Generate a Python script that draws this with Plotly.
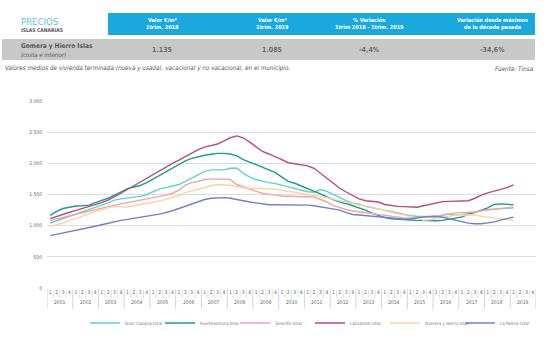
import plotly.graph_objects as go

# Quarterly average prices (EUR/m2), 2001 Q1 .. 2019 Q1
years = [str(y) for y in range(2001, 2020)]
quarters = ["1", "2", "3", "4"]

gran_canaria = [1043, 1080, 1120, 1150, 1190, 1225, 1260, 1295, 1330, 1365, 1410, 1430, 1445, 1455, 1470, 1500,
                1550, 1590, 1610, 1635, 1660, 1710, 1760, 1810, 1870, 1895, 1895, 1895, 1920, 1925, 1840, 1780,
                1740, 1710, 1690, 1675, 1650, 1620, 1600, 1575, 1545, 1535, 1580, 1550, 1500, 1440, 1400, 1360,
                1345, 1310, 1285, 1265, 1245, 1230, 1205, 1180, 1160, 1150, 1150, 1145, 1140, 1170, 1190, 1170,
                1180, 1190, 1210, 1240, 1260, 1265, 1270, 1275, 1285]
fuerteventura = [1165, 1230, 1275, 1300, 1315, 1320, 1330, 1370, 1405, 1440, 1490, 1545, 1595, 1620, 1645, 1690,
                 1750, 1810, 1870, 1920, 1980, 2040, 2080, 2110, 2130, 2145, 2160, 2160, 2150, 2120, 2060, 2020,
                 1975, 1940, 1895, 1850, 1780, 1710, 1680, 1640, 1600, 1555, 1510, 1460, 1415, 1380, 1355, 1320,
                 1290, 1250, 1200, 1160, 1130, 1110, 1100, 1095, 1090, 1085, 1080, 1078, 1080, 1085, 1100, 1120,
                 1140, 1180, 1210, 1250, 1285, 1340, 1350, 1345, 1335]
tenerife = [1085, 1110, 1138, 1160, 1185, 1213, 1240, 1265, 1290, 1310, 1330, 1350, 1370, 1390, 1405, 1420,
            1440, 1460, 1490, 1520, 1570, 1650, 1690, 1710, 1740, 1750, 1750, 1750, 1740, 1660, 1620, 1580,
            1550, 1520, 1500, 1490, 1475, 1468, 1468, 1465, 1468, 1460, 1420, 1380, 1320, 1285, 1260, 1235,
            1220, 1210, 1200, 1180, 1160, 1145, 1135, 1125, 1120, 1130, 1150, 1150, 1150, 1170, 1190, 1205,
            1210, 1212, 1220, 1240, 1255, 1265, 1280, 1290, 1298]
lanzarote = [1112, 1150, 1185, 1215, 1245, 1275, 1305, 1335, 1370, 1410, 1460, 1520, 1580, 1640, 1700, 1760,
             1830, 1890, 1950, 2000, 2050, 2110, 2170, 2220, 2260, 2290, 2310, 2360, 2410, 2440, 2410, 2340,
             2260, 2190, 2150, 2110, 2060, 2010, 1990, 1975, 1960, 1920, 1840, 1760, 1680, 1600, 1540, 1480,
             1430, 1400, 1390, 1380, 1340, 1320, 1310, 1305, 1300, 1295, 1320, 1345, 1370, 1385, 1390, 1390,
             1390, 1400, 1440, 1490, 1525, 1550, 1575, 1610, 1655]
gomera_hierro = [989, 1015, 1043, 1080, 1120, 1160, 1190, 1225, 1260, 1285, 1310, 1300, 1300, 1320, 1335, 1350,
                 1375, 1395, 1420, 1445, 1480, 1530, 1560, 1590, 1620, 1640, 1660, 1655, 1645, 1630, 1605, 1600,
                 1600, 1600, 1595, 1585, 1570, 1550, 1530, 1515, 1500, 1490, 1470, 1450, 1420, 1400, 1375, 1350,
                 1330, 1315, 1300, 1270, 1240, 1220, 1190, 1175, 1150, 1120, 1090, 1095, 1115, 1125, 1150, 1170,
                 1176, 1176, 1170, 1150, 1135, 1120, 1110, 1095, 1085]
la_palma = [840, 860, 880, 905, 925, 945, 965, 990, 1015, 1040, 1065, 1085, 1100, 1120, 1135, 1150,
            1170, 1185, 1210, 1240, 1275, 1310, 1350, 1385, 1420, 1440, 1450, 1450, 1440, 1425, 1400, 1380,
            1365, 1345, 1335, 1335, 1335, 1335, 1340, 1335, 1330, 1320, 1305, 1290, 1270, 1250, 1210, 1180,
            1170, 1160, 1155, 1140, 1125, 1115, 1110, 1105, 1110, 1130, 1140, 1145, 1150, 1135, 1110, 1090,
            1060, 1040, 1030, 1030, 1045, 1060, 1090, 1110, 1138]

series_names = ["Gran Canaria total", "Fuerteventura Islas", "Tenerife total",
                "Lanzarote total", "Gomera y Hierro Islas", "La Palma total"]
series_values = [gran_canaria, fuerteventura, tenerife, lanzarote, gomera_hierro, la_palma]
series_colors = ["#5fd3c9", "#1b9c8c", "#f5a3a3", "#b84a80", "#fbd3a6", "#6f80cc"]

y_ticks = [0, 500, 1000, 1500, 2000, 2500, 3000]
y_ticktext = ["0", "500", "1.000", "1.500", "2.000", "2.500", "3.000"]

header_cols = ["Valor €/m²<br>1trim. 2018", "Valor €/m²<br>1trim. 2019",
               "% Variación<br>1trim 2018 - 1trim. 2019", "Variación desde máximos<br>de la década pasada"]
row_values = ["1.135", "1.085", "-4,4%", "-34,6%"]

FONT = "DejaVu Sans Condensed, Liberation Sans Narrow, Arial Narrow, sans-serif"

W, H = 559, 338
L, R, T, B = 47, 536, 101, 288


def px(x):
    return (x - L) / (R - L)


def py(y):
    return (B - y) / (B - T)


n_slots = len(years) * len(quarters)
slot_x = list(range(n_slots))

fig = go.Figure()
for name, vals, col in zip(series_names, series_values, series_colors):
    fig.add_trace(go.Scatter(x=slot_x[:len(vals)], y=vals, mode="lines", name=name,
                             line=dict(color=col, width=1.4), hoverinfo="skip"))

shapes = []
# year dividers under the axis
for k in range(len(years) + 1):
    shapes.append(dict(type="line", xref="x", yref="paper", x0=4 * k - 0.5, x1=4 * k - 0.5,
                       y0=py(289), y1=py(309), line=dict(color="#c9c9c9", width=0.8)))
# quarter dividers
for k in range(len(years)):
    for q in range(1, 4):
        xq = 4 * k + q - 0.5
        shapes.append(dict(type="line", xref="x", yref="paper", x0=xq, x1=xq,
                           y0=py(290), y1=py(298), line=dict(color="#c9c9c9", width=0.6)))
# header band and data row
shapes.append(dict(type="rect", xref="paper", yref="paper", x0=px(108), x1=px(535), y0=py(35), y1=py(13),
                   fillcolor="#1ba8dc", line=dict(width=0), layer="below"))
shapes.append(dict(type="rect", xref="paper", yref="paper", x0=px(2), x1=px(535), y0=py(60), y1=py(39),
                   fillcolor="#c8c8c8", line=dict(width=0), layer="below"))

annotations = []
for k, yr in enumerate(years):
    annotations.append(dict(x=4 * k + 1.5, xref="x", y=py(302), yref="paper", text=yr, showarrow=False,
                            font=dict(size=5, color="#666666", family=FONT), yanchor="middle"))

col_x = [162, 272, 369, 492]
for cx, txt in zip(col_x, header_cols):
    annotations.append(dict(x=px(cx), y=py(24), xref="paper", yref="paper", text="<b>" + txt + "</b>",
                            showarrow=False, font=dict(size=5.5, color="white", family=FONT),
                            xanchor="center", yanchor="middle"))
for cx, txt in zip(col_x, row_values):
    annotations.append(dict(x=px(cx), y=py(50), xref="paper", yref="paper", text="<b>" + txt + "</b>",
                            showarrow=False, font=dict(size=7, color="#6a6a6a", family=FONT),
                            xanchor="center", yanchor="middle"))

annotations += [
    dict(x=px(19), y=py(21), xref="paper", yref="paper", text="PRECIOS", showarrow=False,
         font=dict(size=9.5, color="#5cc3e6", family=FONT), xanchor="left", yanchor="middle"),
    dict(x=px(19), y=py(30), xref="paper", yref="paper", text="<b>ISLAS CANARIAS</b>", showarrow=False,
         font=dict(size=5, color="#555555", family=FONT), xanchor="left", yanchor="middle"),
    dict(x=px(19), y=py(46), xref="paper", yref="paper", text="<b>Gomera y Hierro Islas</b>", showarrow=False,
         font=dict(size=6.5, color="#555555", family=FONT), xanchor="left", yanchor="middle"),
    dict(x=px(19), y=py(54), xref="paper", yref="paper", text="<i>(costa e interior)</i>", showarrow=False,
         font=dict(size=6, color="#555555", family=FONT), xanchor="left", yanchor="middle"),
    dict(x=px(3), y=py(68), xref="paper", yref="paper",
         text="<i>Valores medios de vivienda terminada (nueva y usada), vacacional y no vacacional, en el municipio.</i>",
         showarrow=False, font=dict(size=6.3, color="#555555", family=FONT), xanchor="left", yanchor="middle"),
    dict(x=px(536), y=py(68), xref="paper", yref="paper", text="<i>Fuente: Tinsa</i>", showarrow=False,
         font=dict(size=6.3, color="#555555", family=FONT), xanchor="right", yanchor="middle"),
]

fig.update_layout(
    width=W, height=H,
    margin=dict(l=L, r=W - R, t=T, b=H - B, autoexpand=False),
    paper_bgcolor="white", plot_bgcolor="white",
    font=dict(family=FONT, color="#666666"),
    showlegend=True,
    legend=dict(orientation="h", x=px(85), y=py(323), xanchor="left", yanchor="middle",
                font=dict(size=4.5, color="#777777", family=FONT),
                entrywidth=30, entrywidthmode="pixels", itemwidth=30, tracegroupgap=0,
                bgcolor="rgba(0,0,0,0)"),
    xaxis=dict(range=[-0.5, n_slots - 0.5], tickmode="array", tickvals=slot_x,
               ticktext=quarters * len(years), ticks="", showgrid=False, zeroline=False,
               showline=False, tickfont=dict(size=5, color="#666666", family=FONT), fixedrange=True),
    yaxis=dict(range=[0, 3000], tickmode="array", tickvals=y_ticks, ticktext=y_ticktext,
               showgrid=True, gridcolor="#dcdcdc", gridwidth=0.8, zeroline=False, showline=False,
               tickfont=dict(size=5, color="#666666", family=FONT), ticklabelstandoff=4, fixedrange=True),
    shapes=shapes,
    annotations=annotations,
)

fig.write_html("out.html")
